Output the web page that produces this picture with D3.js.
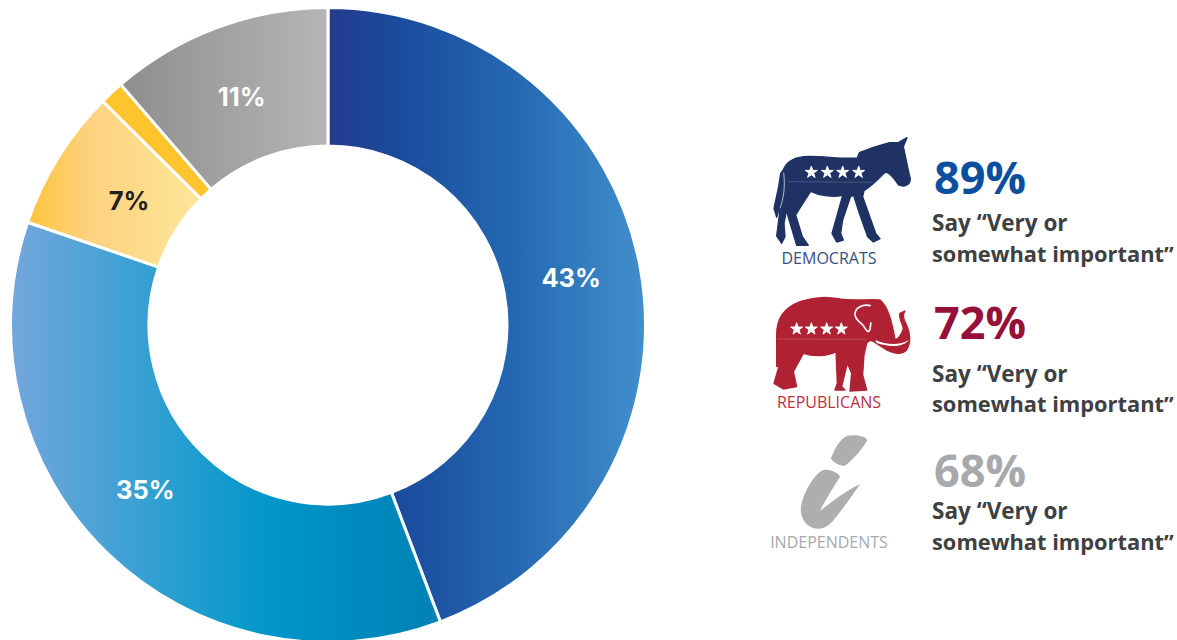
<html>

<head>
  <meta charset="utf8">
  <title>Very or somewhat important</title>
  <style>
  * {
    margin: 0;
    padding: 0;
  }

  body {
    background: #fff;
    overflow: hidden;
  }

  svg {
    display: block;
  }

  .slice {
    stroke: #fff;
    stroke-width: 3px;
  }

  .slice-label {
    font: 700 25.5px Inter, sans-serif;
    text-anchor: middle;
  }

  .party-name {
    font: 400 16px "Open Sans", sans-serif;
    text-anchor: middle;
  }

  .party-value {
    font: 700 45px "Open Sans", sans-serif;
  }

  .party-note {
    font-family: "Open Sans", sans-serif;
    font-weight: 700;
    fill: #404041;
  }

  .icon {
    stroke-width: 4px;
    stroke-linejoin: round;
  }

  .star {
    fill: #fff;
    stroke: #fff;
    stroke-width: 3px;
    stroke-linejoin: round;
  }
  </style>
</head>

<body>
  <script src="https://d3js.org/d3.v7.min.js"></script>
  <script>

  // donut values, the printed numbers add up to 97 and d3.pie normalises them
  // the unlabelled sliver is estimated from its angle
  var sliceKeys = ['a', 'b', 'c', 'd', 'e']
  var sliceValues = [43, 35, 7, 1.2, 11]
  var sliceLabels = ['43%', '35%', '7%', '', '11%']

  var parties = ['DEMOCRATS', 'REPUBLICANS', 'INDEPENDENTS']
  var partyValues = ['89%', '72%', '68%']
  var noteLines = ['Say “Very or', 'somewhat important”']

  // styles, kept apart from the data
  var sliceStops = [
    [[0, '#253a8e'], [0.22, '#1a4b9c'], [0.6, '#2569b2'], [1, '#428fcd']],
    [[0, '#74a7dc'], [0.45, '#1b9dce'], [0.62, '#0095c8'], [1, '#0081b4']],
    [[0, '#fec33c'], [0.35, '#fdd27e'], [1, '#fde69a']],
    [[0, '#fec42e'], [1, '#fec42e']],
    [[0, '#8e8e8e'], [1, '#b5b5b7']]
  ]
  var labelColors = ['#fff', '#fff', '#231f20', '#fff', '#fff']
  var labelNudge = [[-1, -2.5], [-10, -13.5], [12, 7], [0, 0], [0, 4.5]]

  var width = 1177, height = 640
  var cx = 328, cy = 325

  var svg = d3.select('body')
    .append('svg')
    .attr('viewBox', `0 0 ${width} ${height}`)
    .attr('width', width)
    .attr('height', height)

  var defs = svg.append('defs')

  // one horizontal gradient per slice, stretched over the slice's own box
  sliceStops.forEach((stops, i) => {
    var grad = defs.append('linearGradient')
      .attr('id', 'grad-' + sliceKeys[i])
      .attr('x1', 0).attr('x2', 1).attr('y1', 0).attr('y2', 0)
    stops.forEach(s => {
      grad.append('stop').attr('offset', s[0]).attr('stop-color', s[1])
    })
  })

  var pie = d3.pie().sort(null)
  var arc = d3.arc().innerRadius(179).outerRadius(317.5)
  var arcs = pie(sliceValues)

  var donut = svg.append('g')
    .attr('transform', `translate(${cx},${cy})`)

  donut.selectAll('.slice')
    .data(arcs)
    .enter()
    .append('path')
    .classed('slice', true)
    .attr('d', arc)
    .attr('fill', (d, i) => `url(#grad-${sliceKeys[i]})`)

  donut.selectAll('.slice-label')
    .data(arcs)
    .enter()
    .append('text')
    .classed('slice-label', true)
    .attr('x', (d, i) => arc.centroid(d)[0] + labelNudge[i][0])
    .attr('y', (d, i) => arc.centroid(d)[1] + labelNudge[i][1])
    .attr('dy', '.35em')
    .attr('fill', (d, i) => labelColors[i])
    .text((d, i) => sliceLabels[i])

  // party icons, traced in 3x zoom pixels
  var donkey = 'M70,120 C78,98 98,84 130,80 C180,76 240,88 292,84 L298,68 L340,52 L388,38 L415,38 L441,23 L430,50 C436,75 444,120 451,146 C451,165 432,173 416,165 C404,150 394,128 376,126 C360,142 340,165 312,182 L308,200 L332,268 L347,310 L360,326 L340,336 L323,320 L298,250 L281,197 L272,199 L248,270 L242,310 L250,330 L230,336 L216,310 L233,250 L248,196 C220,202 180,198 152,184 L124,228 L107,255 L127,320 L145,346 L110,346 L85,262 L80,240 L72,280 L75,320 L65,340 L50,318 L60,240 L58,235 L50,262 L42,235 L56,170 L62,130 Z'
  var donkeyTailGap = 'M71,128 C76,170 71,205 60,235'
  var elephant = 'M50,150 C50,100 70,70 120,50 C170,35 200,35 240,42 C280,48 330,42 360,45 C385,65 395,110 405,162 C412,166 425,150 430,130 C425,110 415,95 420,85 L435,78 C430,85 428,95 435,110 C450,140 455,170 440,195 C425,210 400,205 380,195 L345,172 C335,165 325,165 320,175 L312,210 L308,270 L320,315 L270,318 L275,265 L262,235 L245,305 L255,315 L225,315 L232,295 L228,200 C200,215 160,215 130,205 L100,260 L110,305 L70,312 L42,295 L58,240 L50,245 Z'
  var elephantEar = 'M332,62 C305,56 285,70 285,88 C285,105 300,110 310,122 C318,135 325,148 330,132 L333,112'
  var elephantTusk = 'M346,165 C380,180 420,182 447,164 C430,188 385,186 350,174 Z'
  var indieDot = 'M262,32 C285,28 315,32 322,45 C320,55 280,105 255,122 C240,125 215,110 213,100 C222,75 240,40 262,32 Z'
  var indieBody = 'M190,135 C210,130 238,145 240,155 C225,180 195,225 180,258 C210,235 260,195 300,178 C285,200 250,250 225,280 C205,310 175,318 150,305 C125,290 118,260 125,235 C135,195 165,145 190,135 Z'

  var star = d3.symbol().type(d3.symbolStar).size(400)

  var donkeyG = svg.append('g').attr('transform', 'translate(760,130) scale(0.3333)')
  donkeyG.append('path').classed('icon', true).attr('d', donkey).attr('fill', '#1f3263').attr('stroke', '#1f3263')
  donkeyG.append('path').attr('d', donkeyTailGap).attr('fill', 'none').attr('stroke', '#fff').attr('stroke-width', 2)
  donkeyG.append('path').attr('d', 'M85,155 L340,157').attr('stroke', '#5a6a90').attr('stroke-width', 2)
  donkeyG.selectAll('.star').data([154, 202, 248, 296]).enter().append('path')
    .classed('star', true)
    .attr('d', star)
    .attr('transform', d => `translate(${d},127)`)

  var elephantG = svg.append('g').attr('transform', 'translate(760,285) scale(0.3333)')
  elephantG.append('path').classed('icon', true).attr('d', elephant).attr('fill', '#b02233').attr('stroke', '#b02233')
  elephantG.append('path').attr('d', 'M52,162 L320,163').attr('stroke', '#c9606b').attr('stroke-width', 2)
  elephantG.append('path').attr('d', elephantEar).attr('fill', 'none').attr('stroke', '#fff').attr('stroke-width', 5)
  elephantG.append('path').attr('d', elephantTusk).attr('fill', '#fff')
  elephantG.selectAll('.star').data([110, 154, 200, 244]).enter().append('path')
    .classed('star', true)
    .attr('d', star)
    .attr('transform', d => `translate(${d},132)`)

  var indieG = svg.append('g').attr('transform', 'translate(760,425) scale(0.3333)')
  indieG.append('path').attr('d', indieDot).attr('fill', '#aeaeb0')
  indieG.append('path').attr('d', indieBody).attr('fill', '#aeaeb0')

  // legend text on the right
  var nameColors = ['#34507f', '#b8323f', '#a7a9ac']
  var valueColors = ['#0b4f9e', '#96103a', '#a7a9ac']
  var nameY = [264, 408, 548]
  var valueY = [194, 339, 487]
  var noteY = [[231, 262], [382, 412], [519, 550]]
  var noteSizes = [22.5, 21.85]

  parties.forEach((name, i) => {
    svg.append('text')
      .classed('party-name', true)
      .attr('x', 829).attr('y', nameY[i])
      .attr('fill', nameColors[i])
      .text(name)
    svg.append('text')
      .classed('party-value', true)
      .attr('x', 934).attr('y', valueY[i])
      .attr('fill', valueColors[i])
      .text(partyValues[i])
    noteLines.forEach((line, j) => {
      svg.append('text')
        .classed('party-note', true)
        .attr('x', 932).attr('y', noteY[i][j])
        .style('font-size', noteSizes[j] + 'px')
        .text(line)
    })
  })
  </script>
</body>

</html>
